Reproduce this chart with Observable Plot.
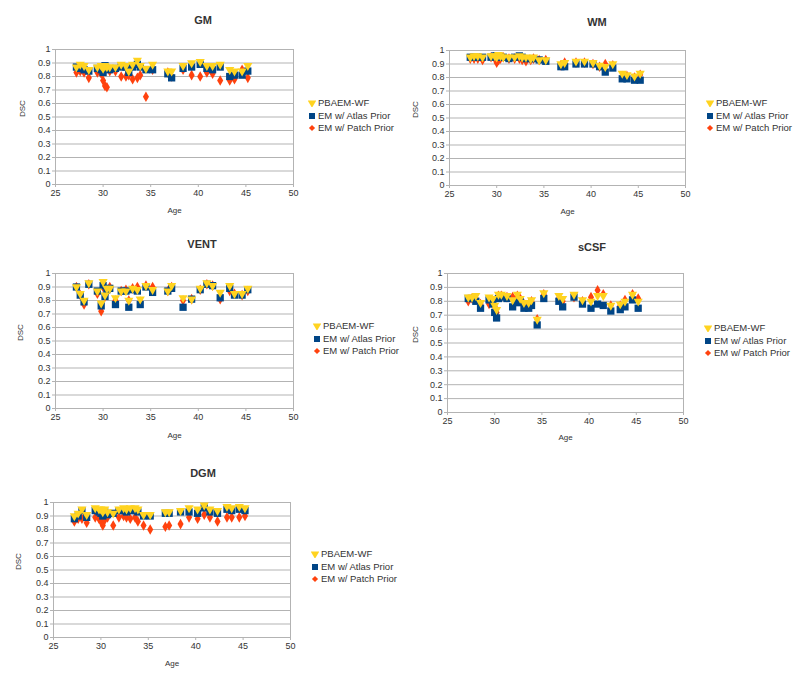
<!DOCTYPE html>
<html><head><meta charset="utf-8">
<script src="https://cdn.jsdelivr.net/npm/d3@7"></script>
<script src="https://cdn.jsdelivr.net/npm/@observablehq/plot@0.6"></script>
<style>
body{margin:0;background:#fff;font-family:"Liberation Sans",Arial,sans-serif;}
#root{position:relative;width:800px;height:682px;overflow:hidden;background:#fff}
.panel{position:absolute}
.title{position:absolute;font-size:11px;font-weight:bold;color:#333;transform:translate(-50%,-50%);white-space:nowrap}
.legend{position:absolute;font-size:9.5px;color:#333}
.legend .row{height:12.5px;line-height:12.5px;white-space:nowrap;display:flex;align-items:center}
.legend svg{margin-right:2px}
</style></head>
<body><div id="root"></div>
<script>
// ---- data ----
const ages = [27.2, 27.6, 28.0, 28.5, 29.4, 29.8, 30.0, 30.2, 30.4, 30.7, 31.3, 31.9, 32.4, 32.7, 33.1, 33.6, 33.9, 34.5, 35.2, 36.8, 37.2, 38.4, 39.3, 40.2, 40.9, 41.5, 42.3, 43.3, 43.8, 44.6, 45.2];
const seriesNames = ["PBAEM-WF", "EM w/ Atlas Prior", "EM w/ Patch Prior"];
const structures = ["GM", "WM", "VENT", "sCSF", "DGM"];
const xTicks = [25, 30, 35, 40, 45, 50];
const yTicks = [0, 0.1, 0.2, 0.3, 0.4, 0.5, 0.6, 0.7, 0.8, 0.9, 1];
const yTickLabels = ["0", "0.1", "0.2", "0.3", "0.4", "0.5", "0.6", "0.7", "0.8", "0.9", "1"];

const gmPBAEM = [0.87,0.89,0.88,0.85,0.87,0.88,0.86,0.88,0.87,0.87,0.87,0.89,0.88,0.84,0.89,0.92,0.88,0.86,0.89,0.84,0.84,0.88,0.90,0.91,0.88,0.88,0.89,0.85,0.84,0.84,0.88];
const gmAtlas = [0.87,0.86,0.85,0.84,0.86,0.85,0.83,0.88,0.86,0.85,0.86,0.87,0.87,0.83,0.87,0.89,0.87,0.85,0.85,0.82,0.79,0.86,0.87,0.89,0.86,0.85,0.87,0.80,0.81,0.81,0.84];
const gmPatch = [0.83,0.84,0.83,0.79,0.83,0.82,0.77,0.73,0.72,0.84,0.84,0.80,0.80,0.81,0.78,0.79,0.81,0.65,0.85,0.83,0.80,0.85,0.81,0.80,0.83,0.82,0.77,0.77,0.78,0.85,0.79];

const wmPBAEM = [0.95,0.96,0.96,0.95,0.96,0.96,0.95,0.97,0.96,0.95,0.95,0.95,0.96,0.95,0.95,0.94,0.95,0.93,0.93,0.90,0.91,0.92,0.92,0.91,0.89,0.88,0.90,0.83,0.82,0.81,0.83];
const wmAtlas = [0.95,0.95,0.95,0.95,0.95,0.96,0.96,0.96,0.95,0.95,0.94,0.95,0.96,0.95,0.94,0.94,0.94,0.93,0.92,0.88,0.88,0.90,0.90,0.90,0.88,0.84,0.87,0.79,0.79,0.78,0.78];
const wmPatch = [0.94,0.94,0.94,0.93,0.95,0.94,0.91,0.93,0.94,0.95,0.94,0.94,0.94,0.93,0.92,0.93,0.94,0.93,0.93,0.89,0.91,0.91,0.91,0.90,0.88,0.90,0.89,0.81,0.81,0.80,0.82];

const ventPBAEM = [0.90,0.85,0.80,0.93,0.87,0.78,0.94,0.84,0.89,0.89,0.82,0.87,0.87,0.80,0.89,0.88,0.81,0.91,0.88,0.87,0.91,0.82,0.81,0.89,0.93,0.91,0.86,0.91,0.85,0.85,0.89];
const ventAtlas = [0.90,0.84,0.79,0.92,0.87,0.76,0.91,0.83,0.88,0.89,0.77,0.87,0.87,0.75,0.88,0.87,0.77,0.90,0.86,0.87,0.89,0.75,0.81,0.88,0.92,0.91,0.82,0.89,0.84,0.84,0.88];
const ventPatch = [0.90,0.84,0.77,0.92,0.85,0.72,0.90,0.83,0.86,0.90,0.80,0.87,0.88,0.80,0.89,0.90,0.79,0.91,0.90,0.87,0.90,0.80,0.81,0.88,0.92,0.91,0.81,0.87,0.85,0.84,0.87];

const scsfPBAEM = [0.83,0.83,0.84,0.79,0.83,0.82,0.77,0.74,0.85,0.85,0.84,0.81,0.85,0.82,0.79,0.79,0.81,0.67,0.86,0.84,0.82,0.85,0.81,0.80,0.84,0.84,0.77,0.78,0.80,0.85,0.80];
const scsfAtlas = [0.82,0.82,0.80,0.75,0.81,0.78,0.72,0.68,0.82,0.83,0.82,0.76,0.79,0.80,0.75,0.75,0.77,0.63,0.82,0.80,0.76,0.83,0.78,0.75,0.78,0.77,0.73,0.74,0.76,0.81,0.75];
const scsfPatch = [0.80,0.82,0.82,0.78,0.78,0.80,0.76,0.72,0.84,0.84,0.83,0.83,0.84,0.82,0.78,0.78,0.80,0.67,0.85,0.82,0.80,0.83,0.80,0.83,0.88,0.85,0.77,0.77,0.81,0.85,0.82];

const dgmPBAEM = [0.90,0.92,0.95,0.91,0.96,0.95,0.95,0.93,0.95,0.93,0.92,0.95,0.96,0.95,0.96,0.96,0.95,0.91,0.91,0.93,0.93,0.94,0.96,0.95,0.98,0.95,0.94,0.97,0.96,0.97,0.96];
const dgmAtlas = [0.88,0.90,0.94,0.89,0.94,0.93,0.92,0.90,0.93,0.91,0.92,0.94,0.94,0.93,0.94,0.94,0.93,0.90,0.90,0.92,0.92,0.93,0.93,0.92,0.96,0.93,0.92,0.95,0.94,0.95,0.94];
const dgmPatch = [0.86,0.88,0.88,0.85,0.89,0.88,0.86,0.83,0.87,0.89,0.83,0.89,0.90,0.89,0.88,0.89,0.86,0.83,0.80,0.82,0.83,0.84,0.89,0.88,0.91,0.89,0.86,0.89,0.89,0.89,0.90];

const colors = ["#ffd320", "#004586", "#ff420e"];

// ---- layout (positions only) ----
const panels = [
  {name: structures[0], series: [gmPBAEM, gmAtlas, gmPatch], left: 0, top: 0, w: 400, h: 230, ml: 55, mr: 107, mt: 49, mb: 46, tx: 203, ty: 20, lx: 308, ly: 97, dscDx: -33, ageDy: 28},
  {name: structures[1], series: [wmPBAEM, wmAtlas, wmPatch], left: 400, top: 0, w: 400, h: 230, ml: 49, mr: 115, mt: 50, mb: 45, tx: 597, ty: 22, lx: 706, ly: 97, dscDx: -34, ageDy: 28},
  {name: structures[2], series: [ventPBAEM, ventAtlas, ventPatch], left: 0, top: 230, w: 400, h: 230, ml: 55, mr: 107, mt: 43, mb: 52, tx: 202, ty: 244, lx: 313, ly: 320, dscDx: -35, ageDy: 29},
  {name: structures[3], series: [scsfPBAEM, scsfAtlas, scsfPatch], left: 400, top: 230, w: 400, h: 230, ml: 47, mr: 117, mt: 43, mb: 48, tx: 592, ty: 247, lx: 704, ly: 322, dscDx: -32, ageDy: 27},
  {name: structures[4], series: [dgmPBAEM, dgmAtlas, dgmPatch], left: 0, top: 460, w: 400, h: 222, ml: 53, mr: 110, mt: 42, mb: 45, tx: 203, ty: 473, lx: 311, ly: 548, dscDx: -35, ageDy: 28}
];

const triangleDown = {
  draw(ctx, size) {
    const s = Math.sqrt(4 * size / Math.sqrt(3));
    const h = s * Math.sqrt(3) / 2;
    ctx.moveTo(-s / 2, -h / 3);
    ctx.lineTo(s / 2, -h / 3);
    ctx.lineTo(0, 2 * h / 3);
    ctx.closePath();
  }
};
const symbols = [triangleDown, "square", "diamond"];
const radii = [3.4, 4.1, 3.2];
const drawOrder = [2, 1, 0];

const root = document.getElementById("root");
const font = "Liberation Sans, Arial, sans-serif";

for (const p of panels) {
  const dotMarks = drawOrder.map(si => {
    const rows = ages.map((a, i) => ({age: a, dsc: p.series[si][i], series: seriesNames[si]}));
    return Plot.dot(rows, {x: "age", y: "dsc", symbol: () => symbols[si], fill: colors[si], stroke: "none", r: radii[si]});
  });
  const chart = Plot.plot({
    width: p.w, height: p.h,
    marginLeft: p.ml, marginRight: p.mr, marginTop: p.mt, marginBottom: p.mb,
    style: {fontFamily: font, fontSize: "9px", color: "#333", background: "transparent", overflow: "visible"},
    symbol: {type: "identity"},
    x: {domain: [25, 50]},
    y: {domain: [0, 1]},
    marks: [
      Plot.gridY(yTicks, {stroke: "#b3b3b3", strokeOpacity: 1}),
      Plot.frame({stroke: "#b3b3b3", strokeOpacity: 1}),
      Plot.axisX(xTicks, {tickSize: 3, tickPadding: 2, stroke: "#b3b3b3", fill: "#333", label: null, fontSize: 9}),
      Plot.axisY(yTicks, {tickSize: 3, tickPadding: 2, stroke: "#b3b3b3", fill: "#333", label: null, fontSize: 9, tickFormat: (d) => yTickLabels[yTicks.indexOf(d)]}),
      Plot.text(["DSC"], {frameAnchor: "left", dx: p.dscDx, rotate: -90, fontSize: 8, fill: "#333"}),
      Plot.text(["Age"], {frameAnchor: "bottom", dy: p.ageDy, fontSize: 8, fill: "#333"}),
      ...dotMarks
    ]
  });
  chart.classList.add("panel");
  chart.style.left = p.left + "px";
  chart.style.top = p.top + "px";
  root.appendChild(chart);

  const t = document.createElement("div");
  t.className = "title";
  t.textContent = p.name;
  t.style.left = p.tx + "px";
  t.style.top = p.ty + "px";
  root.appendChild(t);

  const lg = document.createElement("div");
  lg.className = "legend";
  lg.style.left = p.lx + "px";
  lg.style.top = p.ly + "px";
  seriesNames.forEach((n, si) => {
    const row = document.createElement("div");
    row.className = "row";
    const sym = d3.create("svg").attr("width", 8).attr("height", 8);
    const sy = si === 0 ? d3.symbol(triangleDown, 30) : si === 1 ? d3.symbol(d3.symbolSquare, 36) : d3.symbol(d3.symbolDiamond2, 24);
    sym.append("path").attr("transform", "translate(4,4)").attr("d", sy()).attr("fill", colors[si]);
    row.appendChild(sym.node());
    const sp = document.createElement("span");
    sp.textContent = n;
    row.appendChild(sp);
    lg.appendChild(row);
  });
  root.appendChild(lg);
}
</script>
</body></html>
